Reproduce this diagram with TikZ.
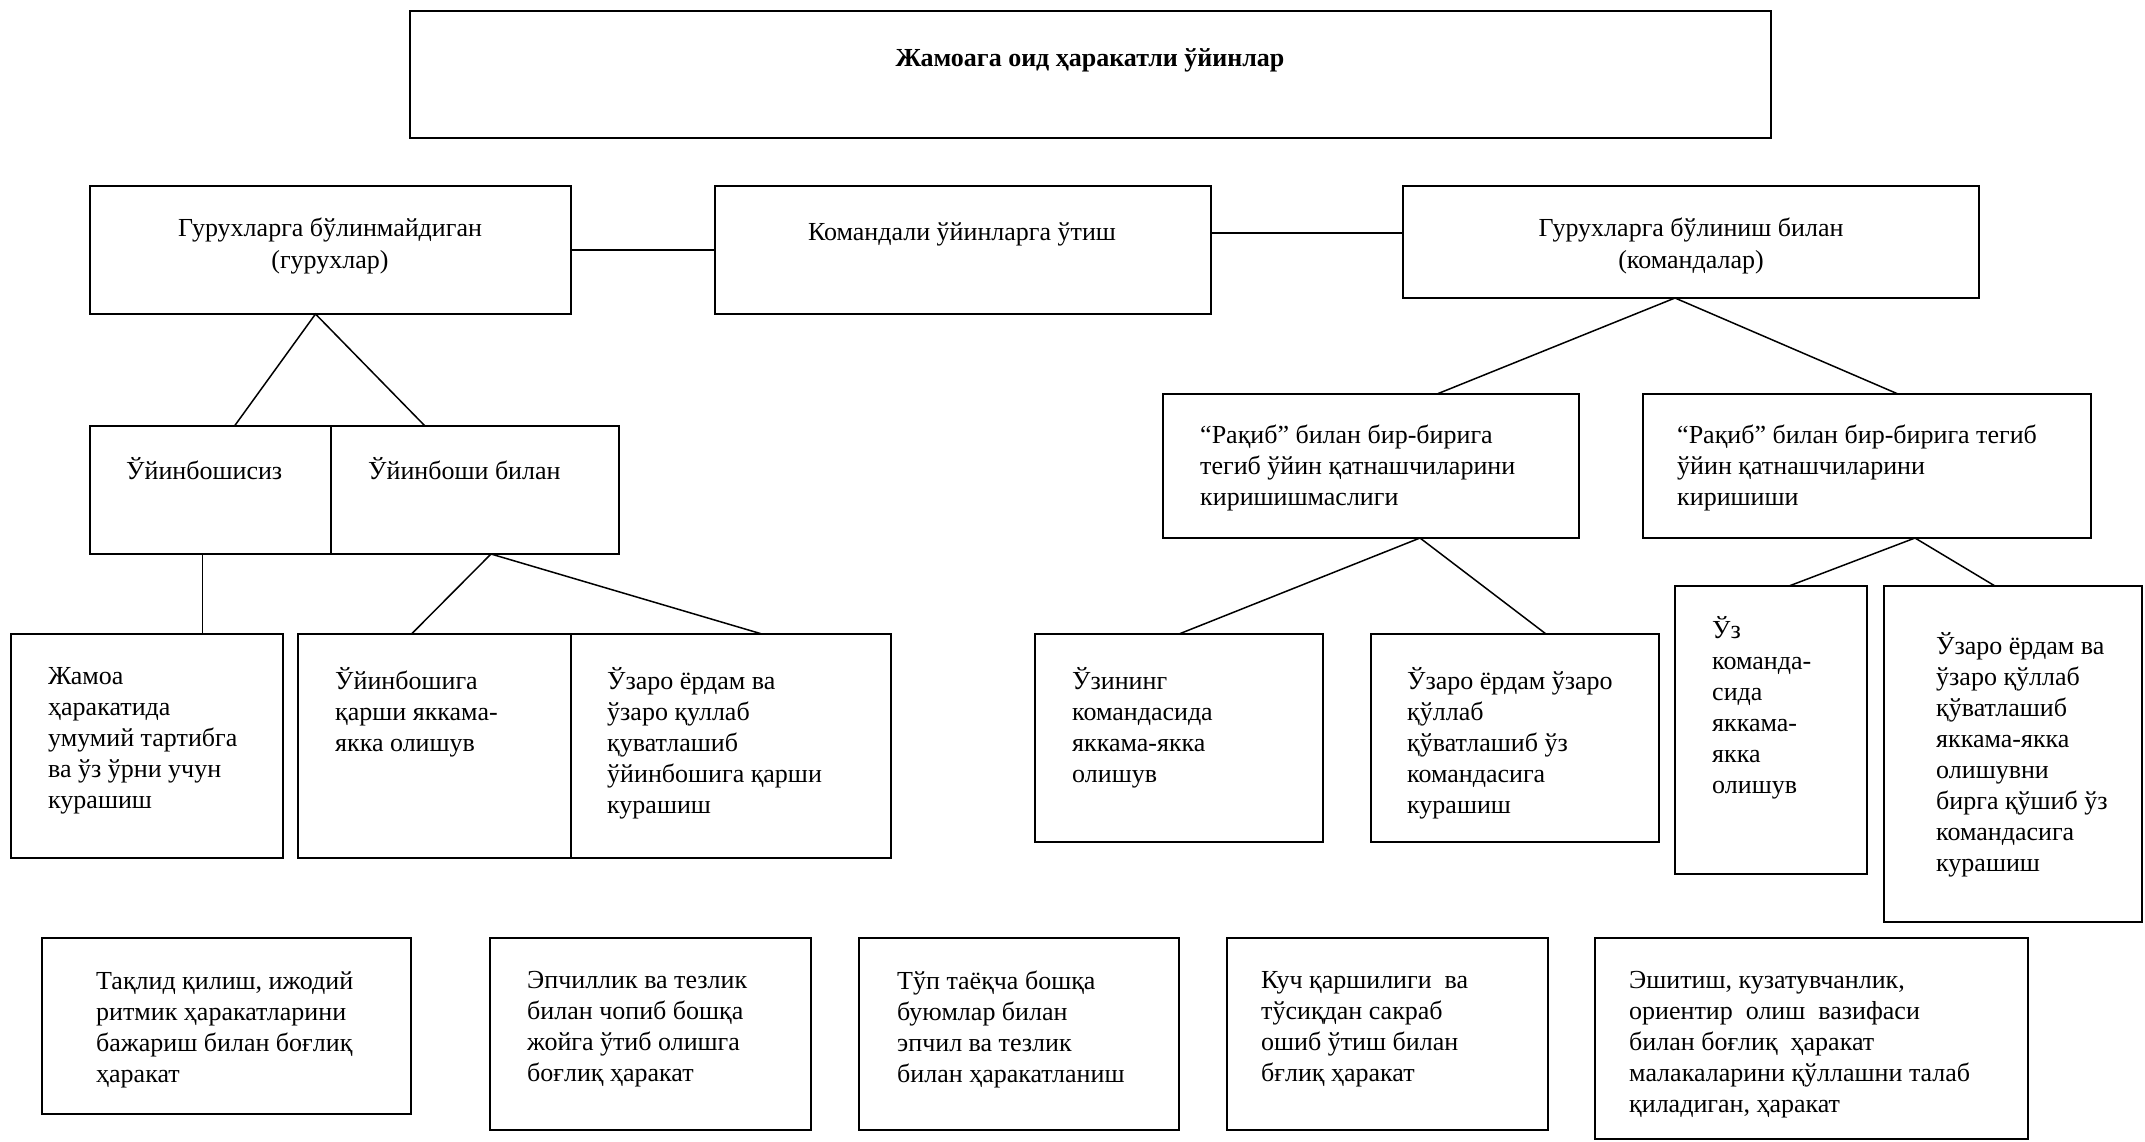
\documentclass[tikz,border=0pt]{standalone}
\usepackage{fontspec}
\setmainfont{Liberation Serif}
\begin{document}
\begin{tikzpicture}[x=1pt,y=-1pt,
  box/.style={draw, line width=1.5pt, inner sep=0pt, outer sep=0pt, anchor=north west},
  txt/.style={font=\fontsize{26}{31}\selectfont, inner sep=0pt, align=left, anchor=north west, execute at begin node=\strut},
  ctxt/.style={font=\fontsize{26}{32}\selectfont, inner sep=0pt, align=center, anchor=north, execute at begin node=\strut},
  stxt/.style={font=\fontsize{26}{31}\selectfont, inner sep=0pt},
  conn/.style={line width=1.5pt}]
\useasboundingbox (0,0) rectangle (2145,1141);
% boxes
\node[box, minimum width=1361pt, minimum height=127pt] (T) at (410,11) {};
\node[box, minimum width=481pt, minimum height=128pt] (A) at (90,186) {};
\node[box, minimum width=496pt, minimum height=128pt] (B) at (715,186) {};
\node[box, minimum width=576pt, minimum height=112pt] (C) at (1403,186) {};
\node[box, minimum width=241pt, minimum height=128pt] (U1) at (90,426) {};
\node[box, minimum width=288pt, minimum height=128pt] (U2) at (331,426) {};
\node[box, minimum width=416pt, minimum height=144pt] (D) at (1163,394) {};
\node[box, minimum width=448pt, minimum height=144pt] (E) at (1643,394) {};
\node[box, minimum width=272pt, minimum height=224pt] (J) at (11,634) {};
\node[box, minimum width=273pt, minimum height=224pt] (K) at (298,634) {};
\node[box, minimum width=320pt, minimum height=224pt] (L) at (571,634) {};
\node[box, minimum width=288pt, minimum height=208pt] (F) at (1035,634) {};
\node[box, minimum width=288pt, minimum height=208pt] (G) at (1371,634) {};
\node[box, minimum width=192pt, minimum height=288pt] (H) at (1675,586) {};
\node[box, minimum width=258pt, minimum height=336pt] (I) at (1884,586) {};
\node[box, minimum width=369pt, minimum height=176pt] (M) at (42,938) {};
\node[box, minimum width=321pt, minimum height=192pt] (N) at (490,938) {};
\node[box, minimum width=320pt, minimum height=192pt] (O) at (859,938) {};
\node[box, minimum width=321pt, minimum height=192pt] (P) at (1227,938) {};
\node[box, minimum width=433pt, minimum height=201pt] (Q) at (1595,938) {};
% texts
\node[stxt, font=\fontsize{26}{31}\selectfont\bfseries, anchor=base] (tT) at (1090,66) {Жамоага оид ҳаракатли ўйинлар};
\node[ctxt] (tA) at (330,218) {Гурухларга бўлинмайдиган\\(гурухлар)};
\node[stxt, anchor=base] (tB) at (962,240) {Командали ўйинларга ўтиш};
\node[ctxt] (tC) at (1691,218) {Гурухларга бўлиниш билан\\(командалар)};
\node[stxt, anchor=base west] (tU1) at (126,479) {Ўйинбошисиз};
\node[stxt, anchor=base west] (tU2) at (368,479) {Ўйинбоши билан};
\node[txt] (tD) at (1200,425) {“Рақиб” билан бир-бирига\\тегиб ўйин қатнашчиларини\\киришишмаслиги};
\node[txt] (tE) at (1677,425) {“Рақиб” билан бир-бирига тегиб\\ўйин қатнашчиларини\\киришиши};
\node[txt] (tJ) at (48,667) {Жамоа\\ҳаракатида\\умумий тартибга\\ва ўз ўрни учун\\курашиш};
\node[txt] (tK) at (335,667) {Ўйинбошига\\қарши яккама-\\якка олишув};
\node[txt] (tL) at (607,667) {Ўзаро ёрдам ва\\ўзаро қуллаб\\қуватлашиб\\ўйинбошига қарши\\курашиш};
\node[txt] (tF) at (1072,667) {Ўзининг\\командасида\\яккама-якка\\олишув};
\node[txt] (tG) at (1407,667) {Ўзаро ёрдам ўзаро\\қўллаб\\қўватлашиб ўз\\командасига\\курашиш};
\node[txt] (tH) at (1712,616) {Ўз\\команда-\\сида\\яккама-\\якка\\олишув};
\node[txt] (tI) at (1936,632) {Ўзаро ёрдам ва\\ўзаро қўллаб\\қўватлашиб\\яккама-якка\\олишувни\\бирга қўшиб ўз\\командасига\\курашиш};
\node[txt] (tM) at (96,971) {Тақлид қилиш, ижодий\\ритмик ҳаракатларини\\бажариш билан боғлиқ\\ҳаракат};
\node[txt] (tN) at (527,971) {Эпчиллик ва тезлик\\билан чопиб бошқа\\жойга ўтиб олишга\\боғлиқ ҳаракат};
\node[txt] (tO) at (897,971) {Тўп таёқча бошқа\\буюмлар билан\\эпчил ва тезлик\\билан ҳаракатланиш};
\node[txt] (tP) at (1261,971) {Куч қаршилиги\ \ ва\\тўсиқдан сакраб\\ошиб ўтиш билан\\бғлиқ ҳаракат};
\node[txt] (tQ) at (1629,971) {Эшитиш, кузатувчанлик,\\ориентир\ \ олиш\ \ вазифаси\\билан боғлиқ\ \ ҳаракат\\малакаларини қўллашни талаб\\қиладиган, ҳаракат};
% connectors
\draw[conn] (A.east) -- (B.west);
\draw[conn] ([yshift=17pt]B.east) -- ([yshift=9pt]C.west);
\draw[conn] ([xshift=24pt]U1.north) -- ([xshift=-15pt]A.south) -- ([xshift=-50pt]U2.north);
\draw[conn] ([xshift=-8pt]U1.south) -- ([xshift=-8pt]U1.south |- J.north);
\draw[conn] ([xshift=-23pt]K.north) -- ([xshift=16pt]U2.south) -- ([xshift=31pt]L.north);
\draw[conn] ([xshift=66pt]D.north) -- ([xshift=-16pt]C.south) -- ([xshift=31pt]E.north);
\draw[conn] (F.north) -- ([xshift=49pt]D.south) -- ([xshift=31pt]G.north);
\draw[conn] ([xshift=18pt]H.north) -- ([xshift=48pt]E.south) -- ([xshift=-18pt]I.north);
\end{tikzpicture}
\end{document}
